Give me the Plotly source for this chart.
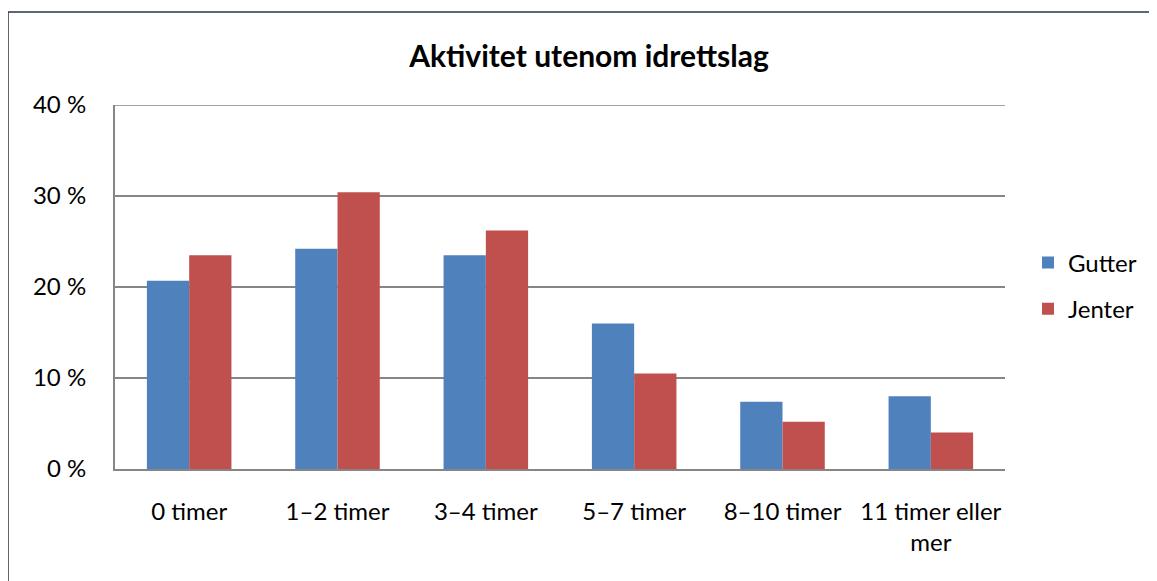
import plotly.graph_objects as go

categories = ["0 timer", "1–2 timer", "3–4 timer", "5–7 timer", "8–10 timer", "11 timer eller<br>mer"]
gutter = [0.207, 0.242, 0.235, 0.160, 0.074, 0.080]
jenter = [0.235, 0.304, 0.262, 0.105, 0.052, 0.040]
y_ticks = [0, 0.1, 0.2, 0.3, 0.4]
y_ticktext = ["0 %", "10 %", "20 %", "30 %", "40 %"]

FONT = "Lato"
OFF = 8  # page body margin
W, H = 1157, 581
L, R, T, B = 115 - OFF, 1005 - OFF, 105 - OFF, 469 - OFF

fig = go.Figure()
fig.add_trace(go.Bar(x=categories, y=gutter, name="Gutter", marker_color="#4F81BD",
                     legendgroup="g", marker_line_width=0))
fig.add_trace(go.Bar(x=categories, y=jenter, name="Jenter", marker_color="#C0504D",
                     legendgroup="j", marker_line_width=0))

pw, ph = R - L, B - T
bx0 = (8 - OFF - L) / pw
bx1 = (W + 20 - L) / pw
by0 = (B - (H + 20)) / ph
by1 = (B - (12 - OFF)) / ph
border = dict(color="#243447", width=1.5)
fig.add_shape(type="line", xref="paper", yref="paper", x0=bx0, x1=bx1, y0=by1, y1=by1,
              line=border, layer="below")
fig.add_shape(type="line", xref="paper", yref="paper", x0=bx0, x1=bx0, y0=by0, y1=by1,
              line=border, layer="below")
fig.add_shape(type="line", xref="paper", yref="y", x0=0, x1=1,
              y0=max(y_ticks), y1=max(y_ticks),
              line=dict(color="#868686", width=1.5), layer="below")

fig.update_layout(
    width=W, height=H,
    margin=dict(l=L, r=W - R, t=T, b=H - B, autoexpand=False),
    paper_bgcolor="white", plot_bgcolor="white",
    font=dict(family=FONT, size=24, color="#000000"),
    title=dict(text="<b>Aktivitet utenom idrettslag</b>", x=(589 - OFF) / W, xanchor="center",
               y=1 - (56 - OFF) / H, yanchor="middle", font=dict(size=30, family=FONT)),
    barmode="group", bargap=0.43, bargroupgap=0,
    legend=dict(x=(1028 - OFF - L) / pw, y=(B - (286 - OFF)) / ph, xanchor="left", yanchor="middle",
                traceorder="grouped", tracegroupgap=12, font=dict(size=24),
                itemwidth=30, bgcolor="rgba(0,0,0,0)"),
    showlegend=True,
)
fig.update_xaxes(showline=True, linecolor="#868686", linewidth=2, ticks="",
                 ticklabelstandoff=20, showgrid=False, tickfont=dict(size=24), automargin=False)
fig.update_yaxes(range=[0, 0.4], tickvals=y_ticks, ticktext=y_ticktext,
                 showgrid=True, gridcolor="#868686", gridwidth=1.5,
                 showline=True, linecolor="#868686", linewidth=2,
                 ticks="", ticklabelstandoff=22, zeroline=False, tickfont=dict(size=24),
                 automargin=False)

fig.write_html("out.html")
